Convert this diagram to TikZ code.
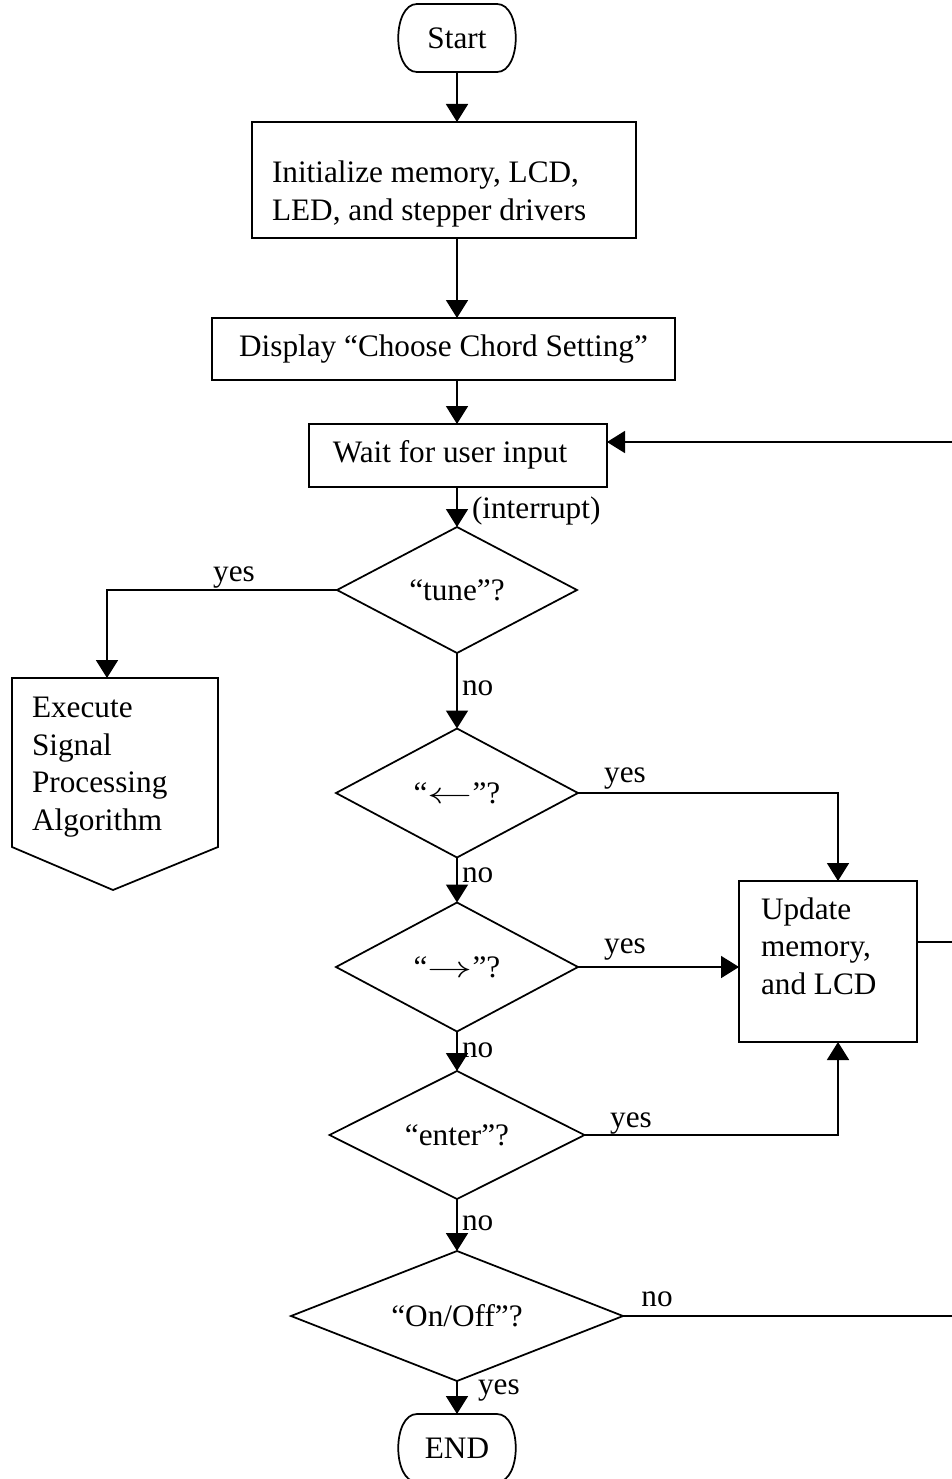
\documentclass[tikz,border=0pt]{standalone}
\usepackage{fontspec}
\setmainfont{Liberation Serif}
\usetikzlibrary{shapes.geometric,arrows.meta,calc}
\newcommand\pxu{0.4pt}
\newcommand\widearrow[1]{\scalebox{1.5}[1]{$#1$}}
\begin{document}
\begin{tikzpicture}[x=0.4pt,y=-0.4pt,
  font=\fontsize{12.5}{15}\selectfont,
  line width=0.7pt,
  every node/.style={inner sep=0pt, outer sep=0pt},
  procbox/.style={draw, rectangle},
  decision/.style={draw, diamond, aspect=2.5},
  termshape/.style={rectangle, minimum width=80*\pxu, minimum height=68*\pxu},
  lbl/.style={anchor=west},
  flow/.style={-{Triangle[length=7.2pt,width=8.8pt]}}
]
\clip (0,0) rectangle (952,1479);

% terminals
\node[termshape] (start) at (457,38) {Start};
\draw (start.north west) -- (start.north east)
  .. controls ($(start.north east)+(25,0)$) and ($(start.south east)+(25,0)$) .. (start.south east)
  -- (start.south west)
  .. controls ($(start.south west)+(-25,0)$) and ($(start.north west)+(-25,0)$) .. cycle;

\node[termshape] (endn) at (457,1448) {END};
\draw (endn.north west) -- (endn.north east)
  .. controls ($(endn.north east)+(25,0)$) and ($(endn.south east)+(25,0)$) .. (endn.south east)
  -- (endn.south west)
  .. controls ($(endn.south west)+(-25,0)$) and ($(endn.north west)+(-25,0)$) .. cycle;

% process boxes
\node[procbox, minimum width=384*\pxu, minimum height=116*\pxu] (init) at (444,180) {};
\node[anchor=west, align=left] (inittext) at (272,194) {Initialize memory, LCD,\\LED, and stepper drivers};

\node[procbox, minimum width=463*\pxu, minimum height=62*\pxu] (display) at (443.5,349) {Display “Choose Chord Setting”};

\node[procbox, minimum width=298*\pxu, minimum height=63*\pxu] (wait) at (458,455.5) {};
\node (waittext) at (450,455) {Wait for user input};

\node[procbox, minimum width=178*\pxu, minimum height=161*\pxu] (update) at (828,961.5) {};
\node[anchor=west, align=left] (updatetext) at (761,946) {Update\\memory,\\and LCD};

% off-page block
\node[rectangle, minimum width=206*\pxu, minimum height=169*\pxu] (exec) at (115,762.5) {};
\coordinate (exectip) at (113,890);
\draw (exec.north west) -- (exec.north east) -- (exec.south east) -- (exectip) -- (exec.south west) -- cycle;
\node[anchor=west, align=left] (exectext) at (32,767) {Execute\\Signal\\Processing\\Algorithm};

% decisions
\node[decision, minimum width=240*\pxu, minimum height=126*\pxu] (tune) at (457,590) {“tune”?};
\node[decision, minimum width=242*\pxu, minimum height=129*\pxu] (left) at (457,793) {“\widearrow{\leftarrow}”?};
\node[decision, minimum width=242*\pxu, minimum height=129*\pxu] (right) at (457,967) {“\widearrow{\rightarrow}”?};
\node[decision, minimum width=255*\pxu, minimum height=128*\pxu] (enter) at (457,1135) {“enter”?};
\node[decision, minimum width=332*\pxu, minimum height=130*\pxu] (onoff) at (457,1316) {“On/Off”?};

% helper coordinates
\coordinate (spine) at (457,0);
\coordinate (rail) at (958,0);
\coordinate (updcol) at (838,0);
\coordinate (execin) at (107,0);
\coordinate (loopin) at ($(wait.east)+(0,-13.5)$);
\coordinate (updout) at ($(update.east)+(0,-19.5)$);

% main flow
\draw[flow] (start.south) -- (start.south |- init.north);
\draw[flow] (init.south -| spine) -- (display.north -| spine);
\draw[flow] (display.south -| spine) -- (wait.north -| spine);
\draw[flow] (wait.south -| spine) -- (tune.north);
\draw[flow] (tune.south) -- (left.north);
\draw[flow] (left.south) -- (right.north);
\draw[flow] (right.south) -- (enter.north);
\draw[flow] (enter.south) -- (onoff.north);
\draw[flow] (onoff.south) -- (endn.north);

% branches
\draw[flow] (tune.west) -- (tune.west -| execin) -- (execin |- exec.north);
\draw[flow] (left.east) -- (left.east -| updcol) -- (updcol |- update.north);
\draw[flow] (right.east) -- (right.east -| update.west);
\draw[flow] (enter.east) -- (enter.east -| updcol) -- (updcol |- update.south);
\draw (updout) -- (updout -| rail);
\draw[flow] (onoff.east) -- (onoff.east -| rail) -- (rail |- loopin) -- (loopin);

% labels
\node[lbl] (lint) at (472,511) {(interrupt)};
\node (ltuneyes) at (234,578) {yes};
\node[lbl] (ltuneno) at (462,688) {no};
\node (lleftyes) at (625,779) {yes};
\node[lbl] (lleftno) at (462,875) {no};
\node (lrightyes) at (625,949) {yes};
\node[lbl] (lrightno) at (462,1050) {no};
\node (lenteryes) at (631,1123) {yes};
\node[lbl] (lenterno) at (462,1223) {no};
\node (lonoffno) at (657,1299) {no};
\node[lbl] (lonoffyes) at (478,1390) {yes};
\end{tikzpicture}
\end{document}
